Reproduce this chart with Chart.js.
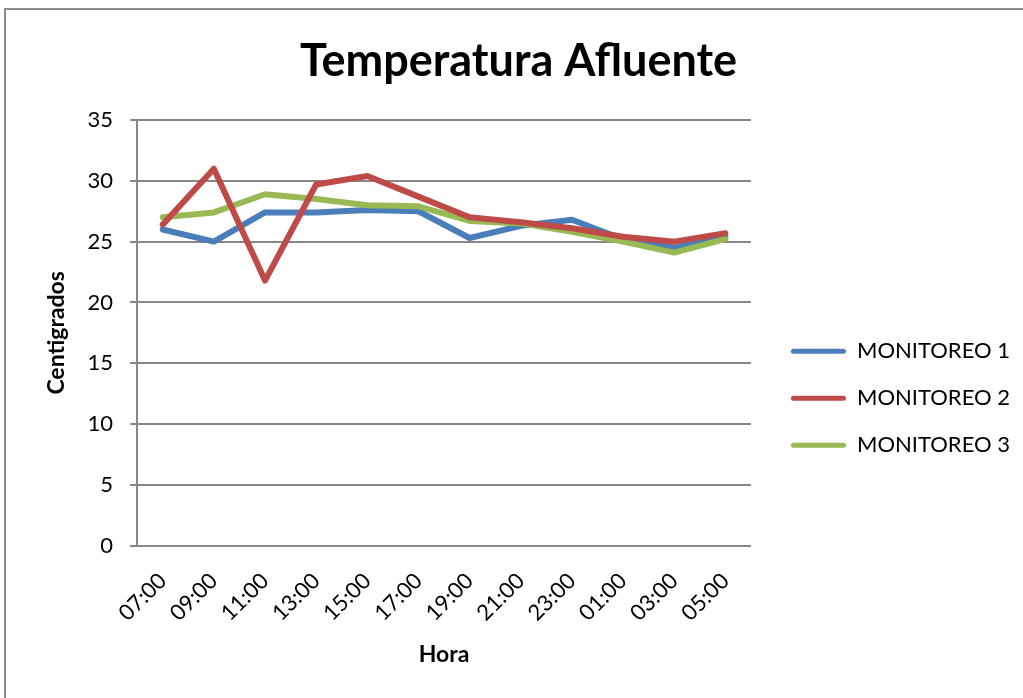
<!DOCTYPE html>
<html>
<head>
<meta charset="utf-8">
<script src="https://cdn.jsdelivr.net/npm/chart.js@4.4.0/dist/chart.umd.min.js"></script>
<style>
  body { margin: 0; background: #fff; }
  #frame { position: absolute; left: 4px; top: 8px; width: 1040px; height: 720px; border-top: 2px solid #8c8c8c; border-left: 2px solid #8c8c8c; }
  #wrap { position: absolute; left: 0; top: 0; width: 1023px; height: 698px; }
</style>
</head>
<body>
<div id="frame"></div>
<div id="wrap"><canvas id="myChart"></canvas></div>
<script>
const horas = ["07:00", "09:00", "11:00", "13:00", "15:00", "17:00", "19:00", "21:00", "23:00", "01:00", "03:00", "05:00"];
const monitoreo1 = [26.0, 25.0, 27.4, 27.4, 27.6, 27.5, 25.3, 26.3, 26.8, 25.2, 24.5, 25.4];
const monitoreo2 = [26.4, 31.0, 21.8, 29.7, 30.4, 28.7, 27.0, 26.6, 26.1, 25.4, 25.0, 25.7];
const monitoreo3 = [27.0, 27.4, 28.9, 28.5, 28.0, 27.9, 26.7, 26.5, 25.8, 25.0, 24.1, 25.2];

const gridColor = "#878787";
const fontName = "Lato, 'Open Sans', sans-serif";

new Chart("myChart", {
    type: "line",
    data: {
        labels: horas,
        datasets: [{
            label: "MONITOREO 1",
            data: monitoreo1,
            borderColor: "#4a7ebb",
            backgroundColor: "#4a7ebb",
            order: 2
        }, {
            label: "MONITOREO 2",
            data: monitoreo2,
            borderColor: "#be4b48",
            backgroundColor: "#be4b48",
            order: 0
        }, {
            label: "MONITOREO 3",
            data: monitoreo3,
            borderColor: "#98b954",
            backgroundColor: "#98b954",
            order: 1
        }]
    },
    options: {
        responsive: true,
        maintainAspectRatio: false,
        animation: false,
        elements: {
            line: {borderWidth: 6, tension: 0, fill: false, borderJoinStyle: "round", borderCapStyle: "round"},
            point: {radius: 0, hoverRadius: 0}
        },
        layout: {padding: {left: 17, right: 3, top: 0, bottom: 30}},
        plugins: {
            title: {
                display: true,
                text: "Temperatura Afluente",
                color: "#000",
                font: {family: fontName, size: 45, weight: "bold"},
                padding: {top: 34, bottom: 32}
            },
            legend: {
                position: "right",
                maxWidth: 400,
                title: {display: true, text: " ", font: {family: fontName, size: 22}, padding: {top: 102, bottom: 0}},
                labels: {
                    color: "#000",
                    font: {family: fontName, size: 22},
                    boxWidth: 55,
                    boxHeight: 5,
                    padding: 25,
                    useBorderRadius: true,
                    borderRadius: 2.5,
                    sort: (a, b) => a.datasetIndex - b.datasetIndex,
                    generateLabels: chart => Chart.defaults.plugins.legend.labels.generateLabels(chart)
                        .map(item => Object.assign(item, {lineWidth: 0}))
                }
            },
            tooltip: {enabled: false}
        },
        scales: {
            x: {
                offset: true,
                grid: {display: false},
                border: {display: true, color: gridColor, width: 2},
                ticks: {
                    color: "#000",
                    font: {family: fontName, size: 22},
                    minRotation: 45,
                    maxRotation: 45,
                    padding: 14
                },
                title: {
                    display: true,
                    text: "Hora",
                    color: "#000",
                    font: {family: fontName, size: 23, weight: "bold"},
                    padding: {top: 0, bottom: 0}
                }
            },
            y: {
                min: 0,
                max: 35,
                grid: {color: gridColor, lineWidth: 2, tickLength: 7, tickColor: gridColor},
                border: {display: true, color: gridColor, width: 2},
                ticks: {
                    stepSize: 5,
                    color: "#000",
                    font: {family: fontName, size: 22},
                    padding: 17
                },
                title: {
                    display: true,
                    text: "Centigrados",
                    color: "#000",
                    font: {family: fontName, size: 23, weight: "bold"},
                    padding: {top: 26, bottom: 0}
                }
            },
            // empty spacer between plot and legend
            gap: {
                position: "right",
                display: true,
                grid: {display: false},
                border: {display: false},
                ticks: {display: false},
                afterFit: function (scale) { scale.width = 15; }
            }
        }
    }
});
</script>
</body>
</html>
